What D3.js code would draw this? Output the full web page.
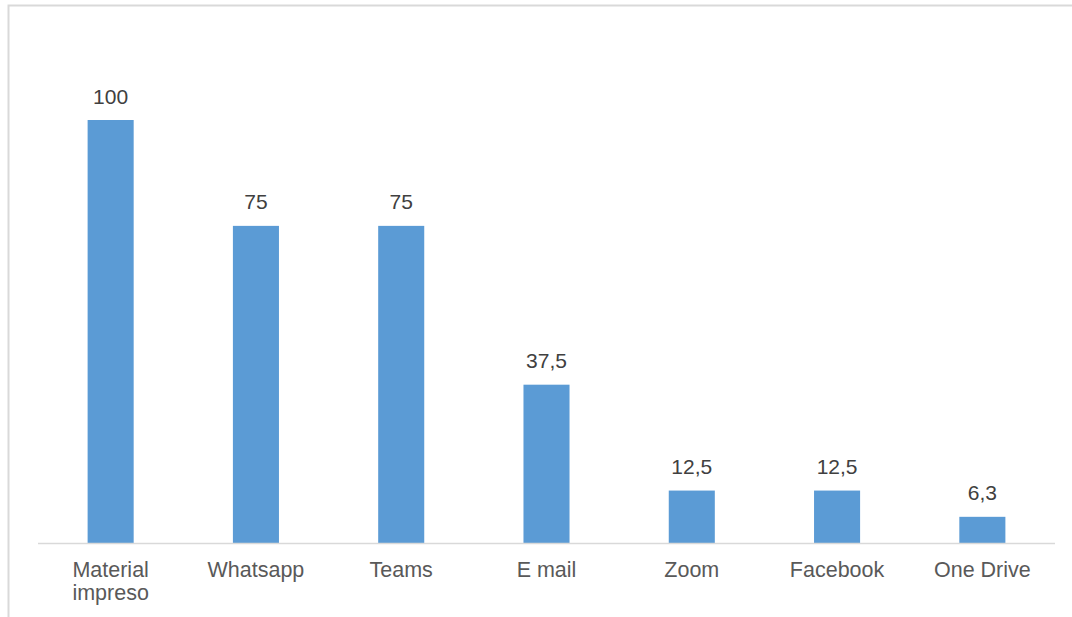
<!DOCTYPE html>
<html><head><meta charset="utf-8">
<script src="https://cdn.jsdelivr.net/npm/d3@7"></script>
<style>html,body{margin:0;padding:0;background:#fff;}svg{display:block;}</style>
</head><body>
<script>
const categories = [["Material","impreso"],["Whatsapp"],["Teams"],["E mail"],["Zoom"],["Facebook"],["One Drive"]];
const values = [100, 75, 75, 37.5, 12.5, 12.5, 6.3];
const valueLabels = ["100","75","75","37,5","12,5","12,5","6,3"];

const W = 1072, H = 617;
const svg = d3.select("body").append("svg").attr("width", W).attr("height", H);

// chart border
svg.append("rect").attr("x", 8.5).attr("y", 5.5).attr("width", 1080).attr("height", 640)
  .attr("fill", "none").attr("stroke", "#d9d9d9").attr("stroke-width", 2);

const names = categories.map(c => c.join(" "));
const x = d3.scaleBand().domain(names).range([38, 1055]).paddingInner(0.683).paddingOuter(0.3415);
const y = d3.scaleLinear().domain([0, 100]).range([543.5, 120]);

svg.selectAll("rect.bar").data(values).enter().append("rect").attr("class","bar")
  .attr("x", (d,i) => x(names[i])).attr("width", x.bandwidth())
  .attr("y", d => y(d)).attr("height", d => y(0) - y(d))
  .attr("fill", "#5b9bd5");

svg.append("line").attr("x1", 38).attr("x2", 1055).attr("y1", 543.5).attr("y2", 543.5)
  .attr("stroke", "#d9d9d9").attr("stroke-width", 1.5);

svg.selectAll("text.val").data(values).enter().append("text").attr("class","val")
  .attr("x", (d,i) => x(names[i]) + x.bandwidth()/2).attr("y", d => y(d) - 16.5)
  .attr("text-anchor","middle").attr("font-family","'Liberation Sans', Arial, sans-serif")
  .attr("font-size", 21).attr("fill","#404040").text((d,i) => valueLabels[i]);

const lab = svg.selectAll("text.cat").data(categories).enter().append("text").attr("class","cat")
  .attr("x", (d,i) => x(names[i]) + x.bandwidth()/2).attr("y", 577)
  .attr("text-anchor","middle").attr("font-family","'Liberation Sans', Arial, sans-serif")
  .attr("font-size", 21.5).attr("fill","#595959");
lab.each(function(d){
  const t = d3.select(this);
  d.forEach((line, j) => t.append("tspan").attr("x", t.attr("x")).attr("dy", j === 0 ? 0 : 23).text(line));
});
</script>
</body></html>
